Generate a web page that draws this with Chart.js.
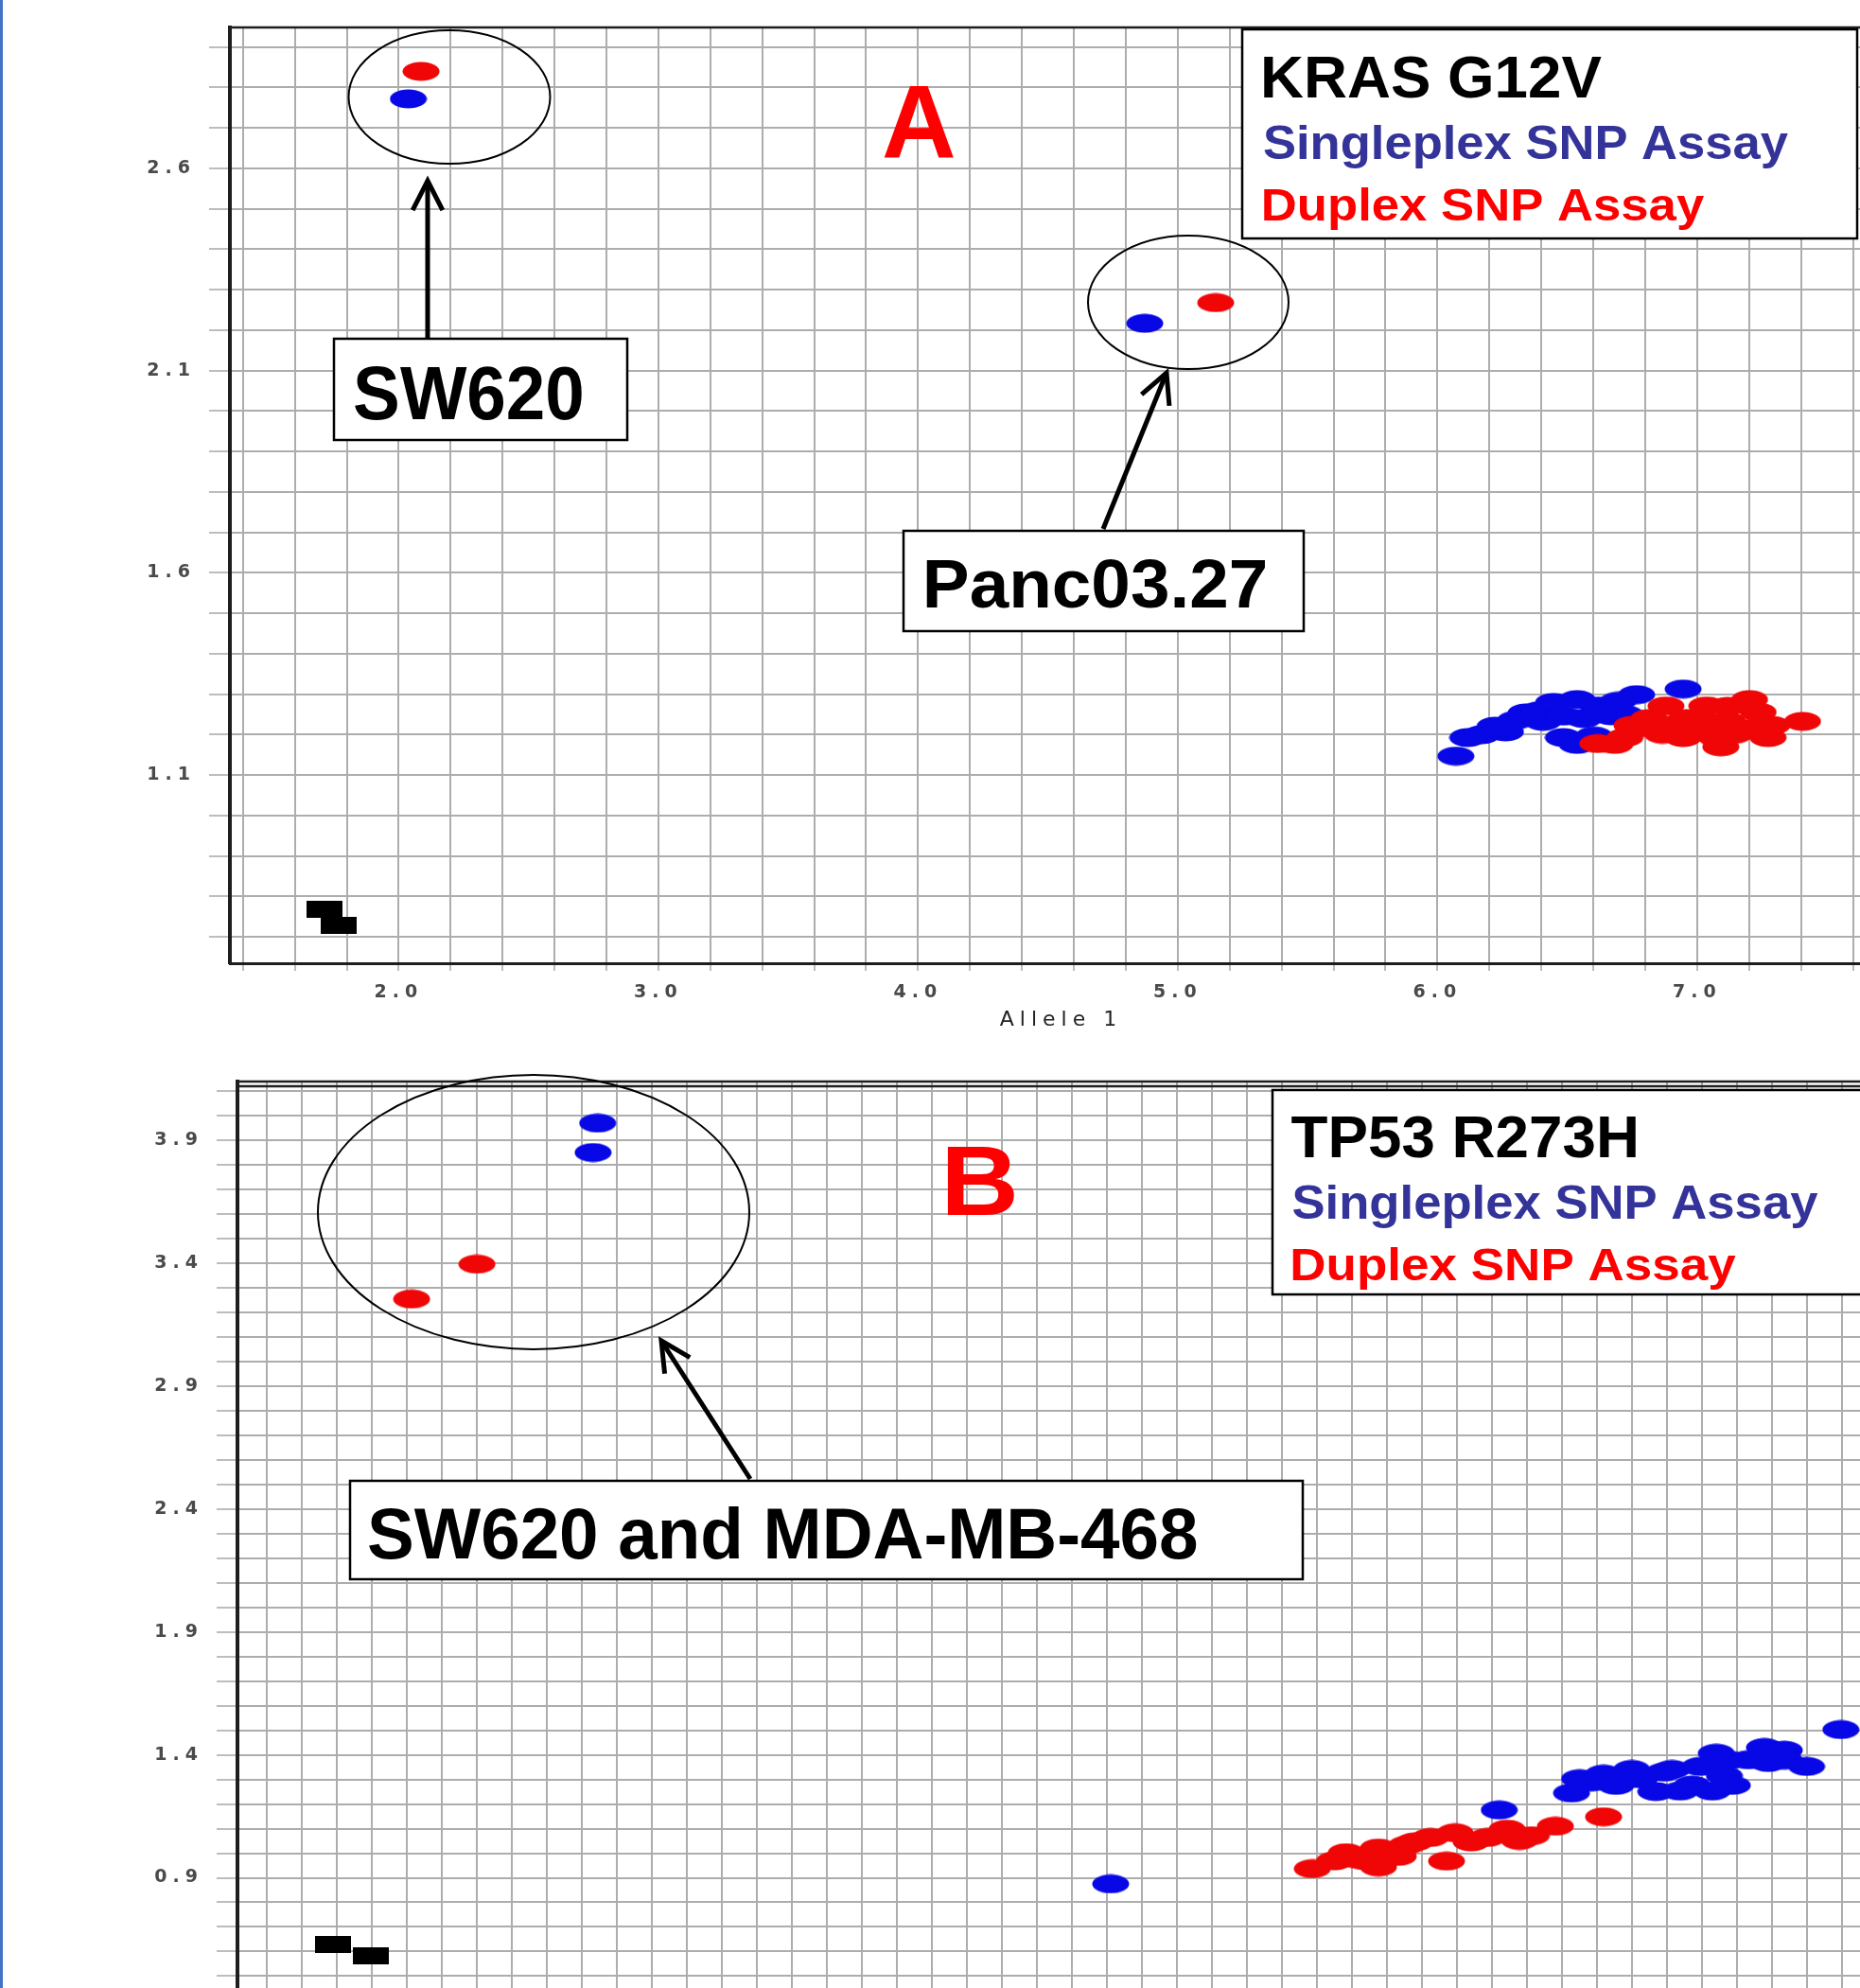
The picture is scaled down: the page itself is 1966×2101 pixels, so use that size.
<!DOCTYPE html>
<html>
<head>
<meta charset="utf-8">
<script src="https://cdn.jsdelivr.net/npm/chart.js@4.4.1/dist/chart.umd.min.js"></script>
<style>
  html, body { margin: 0; padding: 0; background: #fff; }
  body { width: 1966px; height: 2101px; overflow: hidden; position: relative; }
  #edge { position: absolute; left: 0; top: 0; width: 3px; height: 2101px; background: #4472c4; z-index: 2; }
  canvas { position: absolute; left: 0; }
  #chartA { top: 0; }
  #chartB { top: 1100px; }
</style>
</head>
<body>
<div id="edge"></div>
<canvas id="chartA" width="2000" height="1100"></canvas>
<canvas id="chartB" width="2000" height="1160"></canvas>
<script>
// ---- panel A : KRAS G12V ----
const krasSingleX = [2.037, 4.873, 6.071, 6.117, 6.170, 6.222, 6.262, 6.301, 6.341, 6.392, 6.406, 6.447, 6.485, 6.485, 6.538, 6.538, 6.563, 6.603, 6.618, 6.668, 6.696, 6.722, 6.767, 6.946];
const krasSingleY = [2.772, 2.217, 1.147, 1.193, 1.200, 1.221, 1.207, 1.236, 1.254, 1.259, 1.233, 1.280, 1.193, 1.246, 1.287, 1.176, 1.240, 1.197, 1.271, 1.247, 1.283, 1.250, 1.299, 1.313];
const krasDuplexX = [2.086, 5.146, 6.617, 6.683, 6.722, 6.749, 6.774, 6.814, 6.867, 6.880, 6.880, 6.946, 6.959, 7.012, 7.037, 7.038, 7.077, 7.091, 7.117, 7.117, 7.143, 7.196, 7.202, 7.235, 7.273, 7.288, 7.406];
const krasDuplexY = [2.840, 2.268, 1.178, 1.176, 1.193, 1.223, 1.217, 1.240, 1.201, 1.271, 1.223, 1.193, 1.240, 1.217, 1.271, 1.231, 1.192, 1.170, 1.233, 1.270, 1.201, 1.215, 1.287, 1.256, 1.193, 1.223, 1.233];
const krasNtcX = [1.714, 1.769];
const krasNtcY = [0.768, 0.729];
const xLabelsA = ['2.0', '3.0', '4.0', '5.0', '6.0', '7.0'];
const yLabelsA = ['1.1', '1.6', '2.1', '2.6'];

// ---- panel B : TP53 R273H ----
const tp53SingleX = [3.088, 3.062, 6.019, 8.239, 8.652, 8.698, 8.767, 8.835, 8.906, 8.996, 9.041, 9.134, 9.180, 9.226, 9.272, 9.341, 9.387, 9.456, 9.479, 9.525, 9.548, 9.571, 9.662, 9.754, 9.776, 9.868, 9.869, 9.995, 10.191];
const tp53SingleY = [3.971, 3.851, 0.875, 1.176, 1.245, 1.303, 1.290, 1.322, 1.276, 1.341, 1.303, 1.251, 1.330, 1.341, 1.253, 1.277, 1.353, 1.253, 1.407, 1.315, 1.379, 1.276, 1.380, 1.430, 1.369, 1.419, 1.379, 1.353, 1.503];
const tp53DuplexX = [2.398, 2.025, 7.171, 7.298, 7.365, 7.435, 7.481, 7.549, 7.549, 7.662, 7.711, 7.756, 7.846, 7.938, 7.987, 8.078, 8.171, 8.284, 8.354, 8.422, 8.560, 8.835];
const tp53DuplexY = [3.397, 3.255, 0.937, 0.969, 1.002, 0.975, 0.969, 1.021, 0.944, 0.987, 1.033, 1.046, 1.064, 0.968, 1.083, 1.046, 1.064, 1.098, 1.052, 1.071, 1.110, 1.148];
const tp53NtcX = [1.576, 1.792];
const tp53NtcY = [0.629, 0.582];
const xLabelsB = [];
const yLabelsB = ['0.9', '1.4', '1.9', '2.4', '2.9', '3.4', '3.9'];

const BLUE = '#0808e6';
const RED = '#f00606';

function mark(color, w, h, round) {
  const c = document.createElement('canvas');
  c.width = w; c.height = h;
  const g = c.getContext('2d');
  g.fillStyle = color;
  if (round) {
    g.beginPath();
    g.ellipse(w / 2, h / 2, w / 2 - 0.5, h / 2 - 0.5, 0, 0, Math.PI * 2);
    g.fill();
  } else {
    g.fillRect(0, 0, w, h);
  }
  return c;
}
const blueDot = mark(BLUE, 40, 21, true);
const redDot = mark(RED, 40, 21, true);
const ntcMark = mark('#000', 38, 18, false);

function pts(xs, ys) {
  return xs.map((x, i) => ({ x: x, y: ys[i] }));
}

function steps(from, to, step) {
  const out = [];
  const n = Math.round((to - from) / step);
  for (let i = 0; i <= n; i++) out.push(Math.round((from + i * step) * 10) / 10);
  return out;
}

function fitText(ctx, s) {
  ctx.font = 'bold ' + (s.cap / 0.716).toFixed(1) + 'px "Liberation Sans", Arial, sans-serif';
  const m = ctx.measureText(s.t);
  const ink = m.actualBoundingBoxLeft + m.actualBoundingBoxRight;
  ctx.save();
  ctx.translate(s.x, s.base);
  ctx.scale(s.w / ink, 1);
  ctx.fillStyle = s.color;
  ctx.textAlign = 'left';
  ctx.textBaseline = 'alphabetic';
  ctx.fillText(s.t, m.actualBoundingBoxLeft, 0);
  ctx.restore();
}

function arrow(ctx, a) {
  const [x1, y1, x2, y2] = a;
  const ang = Math.atan2(y2 - y1, x2 - x1);
  const len = 35, spread = 0.47;
  ctx.lineWidth = 5;
  ctx.strokeStyle = '#000';
  ctx.beginPath();
  ctx.moveTo(x1, y1);
  ctx.lineTo(x2, y2);
  ctx.stroke();
  ctx.beginPath();
  ctx.moveTo(x2 - len * Math.cos(ang - spread), y2 - len * Math.sin(ang - spread));
  ctx.lineTo(x2, y2);
  ctx.lineTo(x2 - len * Math.cos(ang + spread), y2 - len * Math.sin(ang + spread));
  ctx.lineJoin = 'miter';
  ctx.stroke();
}

// callouts, boxes and the inset key, in page pixels
function notesPlugin(notes, off) {
  return {
    id: 'notes',
    beforeDraw(chart) { chart.ctx.letterSpacing = '6px'; },
    beforeDatasetsDraw(chart) { chart.ctx.letterSpacing = '0px'; },
    afterDraw(chart) {
      const ctx = chart.ctx;
      const area = chart.chartArea;
      ctx.save();
      ctx.letterSpacing = '0px';
      ctx.translate(0, -off);
      ctx.strokeStyle = '#1e1e1e';
      ctx.lineWidth = 2.5;
      notes.frame.forEach(y => {
        ctx.beginPath();
        ctx.moveTo(area.left, y);
        ctx.lineTo(area.right, y);
        ctx.stroke();
      });
      notes.boxes.forEach(b => {
        ctx.fillStyle = '#fff';
        ctx.fillRect(b[0], b[1], b[2] - b[0], b[3] - b[1]);
        ctx.strokeStyle = '#000';
        ctx.lineWidth = 2.5;
        ctx.strokeRect(b[0], b[1], b[2] - b[0], b[3] - b[1]);
      });
      notes.ellipses.forEach(e => {
        ctx.strokeStyle = '#000';
        ctx.lineWidth = 2;
        ctx.beginPath();
        ctx.ellipse(e[0], e[1], e[2], e[3], 0, 0, Math.PI * 2);
        ctx.stroke();
      });
      notes.arrows.forEach(a => arrow(ctx, a));
      notes.texts.forEach(s => fitText(ctx, s));
      ctx.restore();
    }
  };
}

function buildChart(id, o) {
  const tickFont = { family: '"DejaVu Sans", Verdana, sans-serif', size: 19, weight: 'bold' };
  return new Chart(document.getElementById(id), {
    type: 'scatter',
    data: {
      datasets: [
        { label: 'Singleplex SNP Assay', data: pts(o.singleX, o.singleY), pointStyle: blueDot, pointRadius: 20, order: 2 },
        { label: 'Duplex SNP Assay', data: pts(o.duplexX, o.duplexY), pointStyle: redDot, pointRadius: 20, order: 1 },
        { label: 'NTC', data: pts(o.ntcX, o.ntcY), pointStyle: ntcMark, pointRadius: 20, order: 3 }
      ]
    },
    options: {
      responsive: false,
      animation: false,
      events: [],
      layout: { autoPadding: false, padding: { top: o.top, left: 0, right: 0, bottom: 0 } },
      plugins: { legend: { display: false }, tooltip: { enabled: false } },
      scales: {
        x: {
          type: 'linear',
          min: o.xMin,
          max: o.xMax,
          afterFit: s => { s.height = 82; },
          afterBuildTicks: s => { s.ticks = o.xGrid.map(v => ({ value: v })); },
          ticks: {
            autoSkip: false, maxRotation: 0, padding: 12, color: '#4a4a4a', font: tickFont,
            callback: v => (o.xLabels.includes(v.toFixed(1)) ? v.toFixed(1) : '')
          },
          grid: { color: '#adadad', lineWidth: 2, tickLength: 8, tickColor: '#bdbdbd' },
          border: { color: '#1e1e1e', width: 3 },
          title: { display: true, text: 'Allele 1', color: '#222', font: { family: '"DejaVu Sans", Verdana, sans-serif', size: 22 }, padding: { top: 4, bottom: 9 } }
        },
        y: {
          type: 'linear',
          min: o.yMin,
          max: o.yMax,
          afterFit: s => { s.width = o.left; },
          afterBuildTicks: s => { s.ticks = o.yGrid.map(v => ({ value: v })); },
          ticks: {
            autoSkip: false, padding: 14, color: '#4a4a4a', font: tickFont,
            callback: v => (o.yLabels.includes(v.toFixed(1)) ? v.toFixed(1) : '')
          },
          grid: { color: '#adadad', lineWidth: 2, tickLength: 22, tickColor: '#bdbdbd' },
          border: { color: '#1e1e1e', width: 4 }
        }
      }
    },
    plugins: [notesPlugin(o.notes, o.pageTop)]
  });
}

buildChart('chartA', {
  singleX: krasSingleX, singleY: krasSingleY,
  duplexX: krasDuplexX, duplexY: krasDuplexY,
  ntcX: krasNtcX, ntcY: krasNtcY,
  xMin: 1.35, xMax: 7.751, yMin: 0.635, yMax: 2.9485,
  xGrid: steps(1.4, 7.6, 0.2), yGrid: steps(0.7, 2.9, 0.1),
  xLabels: xLabelsA, yLabels: yLabelsA,
  top: 29, left: 243, pageTop: 0,
  notes: {
    frame: [29],
    boxes: [[353, 358, 663, 465], [955, 561, 1378, 667], [1313, 31, 1963, 252]],
    ellipses: [[475, 102.5, 106.5, 70.5], [1256, 319.5, 106, 70.5]],
    arrows: [[452, 358, 452, 191], [1166, 559, 1233, 394]],
    texts: [
      { t: 'A', x: 934, base: 166, cap: 78, w: 74, color: '#ff0000' },
      { t: 'SW620', x: 375, base: 443, cap: 56.7, w: 240, color: '#000' },
      { t: 'Panc03.27', x: 979, base: 642, cap: 51.7, w: 358, color: '#000' },
      { t: 'KRAS G12V', x: 1336, base: 103, cap: 45, w: 357, color: '#000' },
      { t: 'Singleplex SNP Assay', x: 1336, base: 168, cap: 36, w: 554, color: '#333399' },
      { t: 'Duplex SNP Assay', x: 1336, base: 233, cap: 35, w: 465, color: '#ff0000' }
    ]
  }
});

buildChart('chartB', {
  singleX: tp53SingleX, singleY: tp53SingleY,
  duplexX: tp53DuplexX, duplexY: tp53DuplexY,
  ntcX: tp53NtcX, ntcY: tp53NtcY,
  xMin: 1.03, xMax: 10.484, yMin: 0.155, yMax: 4.14,
  xGrid: steps(1.2, 10.4, 0.2), yGrid: steps(0.2, 4.1, 0.1),
  xLabels: xLabelsB, yLabels: yLabelsB,
  top: 43, left: 251, pageTop: 1100,
  notes: {
    frame: [1143, 1148],
    boxes: [[1345, 1152, 1990, 1368], [370, 1565, 1377, 1669]],
    ellipses: [[564, 1281, 228, 145]],
    arrows: [[793, 1563, 699, 1417]],
    texts: [
      { t: 'B', x: 1002, base: 1284, cap: 75, w: 70, color: '#ff0000' },
      { t: 'TP53 R273H', x: 1364.5, base: 1223, cap: 45, w: 365, color: '#000' },
      { t: 'Singleplex SNP Assay', x: 1366.5, base: 1288, cap: 36, w: 555, color: '#333399' },
      { t: 'Duplex SNP Assay', x: 1366.5, base: 1353, cap: 35, w: 468, color: '#ff0000' },
      { t: 'SW620 and MDA-MB-468', x: 390, base: 1647, cap: 54.7, w: 875, color: '#000' }
    ]
  }
});
</script>
</body>
</html>
